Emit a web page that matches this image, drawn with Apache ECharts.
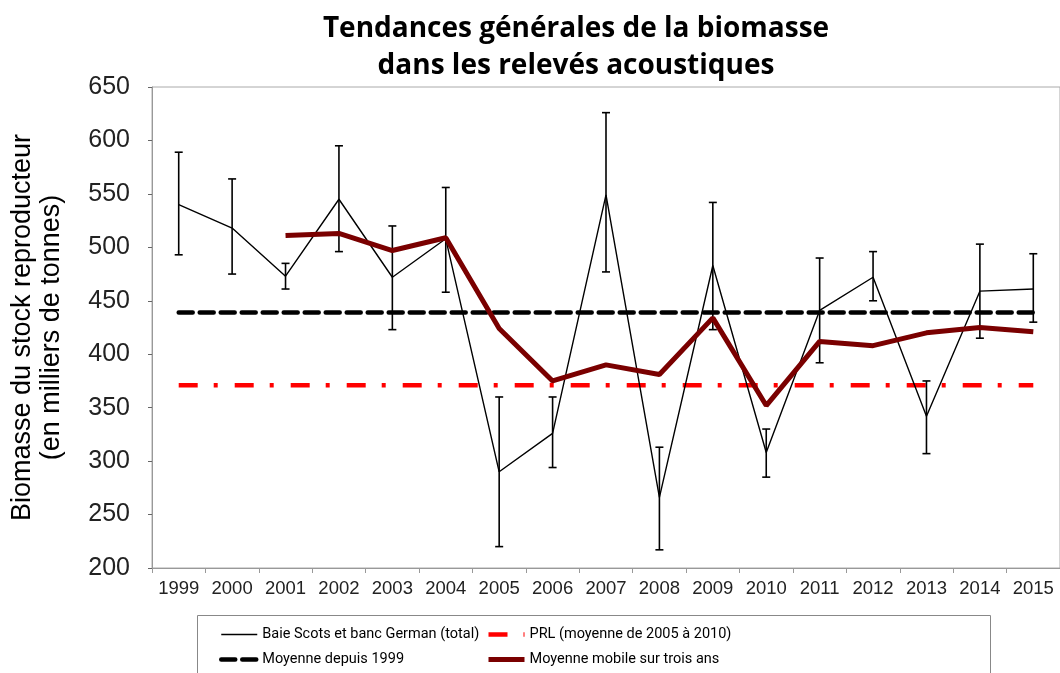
<!DOCTYPE html>
<html>
<head>
<meta charset="utf-8">
<script src="https://cdn.jsdelivr.net/npm/echarts@6/dist/echarts.min.js"></script>
<style>
  html, body { margin: 0; padding: 0; background: #fff; }
  #main { width: 1060px; height: 673px; }
</style>
</head>
<body>
<div id="main"></div>
<script>
// years on the x axis
var years = ['1999', '2000', '2001', '2002', '2003', '2004', '2005', '2006', '2007',
  '2008', '2009', '2010', '2011', '2012', '2013', '2014', '2015']
// Baie Scots et banc German (total), milliers de tonnes
var biomass = [540, 518, 473, 545, 472, 508, 290, 326, 549, 266, 483, 308, 441, 472, 342, 459, 461]
var errHigh = [589, 564, 485, 595, 520, 556, 360, 360, 626, 313, 542, 330, 490, 496, 375, 503, 494]
var errLow = [493, 475, 461, 496, 423, 458, 220, 294, 477, 217, 423, 285, 392, 450, 307, 415, 430]
// moyenne mobile sur trois ans (starts in 2001)
var movingAvg = [null, null, 511, 513, 497, 509, 424, 375, 390, 381, 434, 352, 412, 408, 420, 425, 421]
// reference levels
var meanSince1999 = 439
var prl = 371
var yTicks = { min: 200, max: 650, step: 50 }

var chart = echarts.init(document.getElementById('main'))

var errData = years.map(function (y, i) { return [i, errLow[i], errHigh[i]] })

var legendText = { fontFamily: 'Roboto', fontSize: 14.5, color: '#000' }

var option = {
  animation: false,
  title: {
    text: 'Tendances générales de la biomasse\ndans les relevés acoustiques',
    left: 571,
    top: 6,
    textAlign: 'center',
    textStyle: {
      fontFamily: 'Open Sans',
      fontWeight: 'bold',
      fontSize: 28,
      lineHeight: 37,
      color: '#000'
    }
  },
  grid: {
    left: 151,
    top: 87,
    width: 911,
    height: 481,
    show: true,
    borderColor: '#aaa',
    borderWidth: 1
  },
  legend: [
    {
      data: ['Baie Scots et banc German (total)', 'Moyenne depuis 1999'],
      orient: 'vertical',
      left: 214,
      top: 622,
      height: 80,
      itemWidth: 36,
      itemHeight: 14,
      itemGap: 10,
      itemStyle: { opacity: 0 },
      lineStyle: { width: 'inherit' },
      textStyle: legendText
    },
    {
      data: ['PRL (moyenne de 2005 à 2010)', 'Moyenne mobile sur trois ans'],
      orient: 'vertical',
      left: 481,
      top: 622,
      height: 80,
      itemWidth: 36,
      itemHeight: 14,
      itemGap: 10,
      itemStyle: { opacity: 0 },
      lineStyle: { width: 'inherit' },
      textStyle: legendText
    }
  ],
  graphic: [
    {
      type: 'rect',
      shape: { x: 197.5, y: 615.5, width: 793, height: 70 },
      style: { fill: 'none', stroke: '#888', lineWidth: 1 },
      z: -1
    }
  ],
  xAxis: {
    type: 'category',
    data: years,
    boundaryGap: true,
    axisLine: { lineStyle: { color: '#999' } },
    axisTick: { show: true, length: 5, lineStyle: { color: '#999' } },
    axisLabel: { interval: 0, fontFamily: 'Liberation Sans', fontSize: 18.5, color: '#222', margin: 11 }
  },
  yAxis: {
    type: 'value',
    min: yTicks.min,
    max: yTicks.max,
    interval: yTicks.step,
    name: 'Biomasse du stock reproducteur\n(en milliers de tonnes)',
    nameLocation: 'middle',
    nameRotate: 90,
    nameGap: 86,
    nameTextStyle: { fontFamily: 'Liberation Sans', fontSize: 27, lineHeight: 29, color: '#000' },
    splitLine: { show: false },
    axisLine: { show: true, lineStyle: { color: '#999' } },
    axisTick: { show: true, length: 4, lineStyle: { color: '#666' } },
    axisLabel: { fontFamily: 'Liberation Sans', fontSize: 25, color: '#222', margin: 22 }
  },
  series: [
    {
      name: 'Moyenne depuis 1999',
      type: 'line',
      data: years.map(function () { return meanSince1999 }),
      symbol: 'none',
      lineStyle: { color: '#000', width: 4.5, type: [14, 7], cap: 'round' },
      itemStyle: { color: '#000' },
      z: 2
    },
    {
      name: 'PRL (moyenne de 2005 à 2010)',
      type: 'line',
      data: years.map(function () { return prl }),
      symbol: 'none',
      lineStyle: { color: '#ff0000', width: 4.5, type: [19, 16, 4, 17] },
      itemStyle: { color: '#ff0000' },
      z: 2
    },
    {
      type: 'custom',
      data: errData,
      z: 3,
      renderItem: function (params, api) {
        var x = api.value(0)
        var lo = api.coord([x, api.value(1)])
        var hi = api.coord([x, api.value(2)])
        var w = 4
        var st = { stroke: '#000', lineWidth: 1.6 }
        return {
          type: 'group',
          children: [
            { type: 'line', shape: { x1: lo[0], y1: lo[1], x2: hi[0], y2: hi[1] }, style: st },
            { type: 'line', shape: { x1: hi[0] - w, y1: hi[1], x2: hi[0] + w, y2: hi[1] }, style: st },
            { type: 'line', shape: { x1: lo[0] - w, y1: lo[1], x2: lo[0] + w, y2: lo[1] }, style: st }
          ]
        }
      }
    },
    {
      name: 'Baie Scots et banc German (total)',
      type: 'line',
      data: biomass,
      symbol: 'none',
      lineStyle: { color: '#000', width: 1.4 },
      itemStyle: { color: '#000' },
      z: 4
    },
    {
      name: 'Moyenne mobile sur trois ans',
      type: 'line',
      data: movingAvg,
      symbol: 'none',
      lineStyle: { color: '#7a0000', width: 5 },
      itemStyle: { color: '#7a0000' },
      z: 5
    }
  ]
}

chart.setOption(option)
</script>
</body>
</html>
